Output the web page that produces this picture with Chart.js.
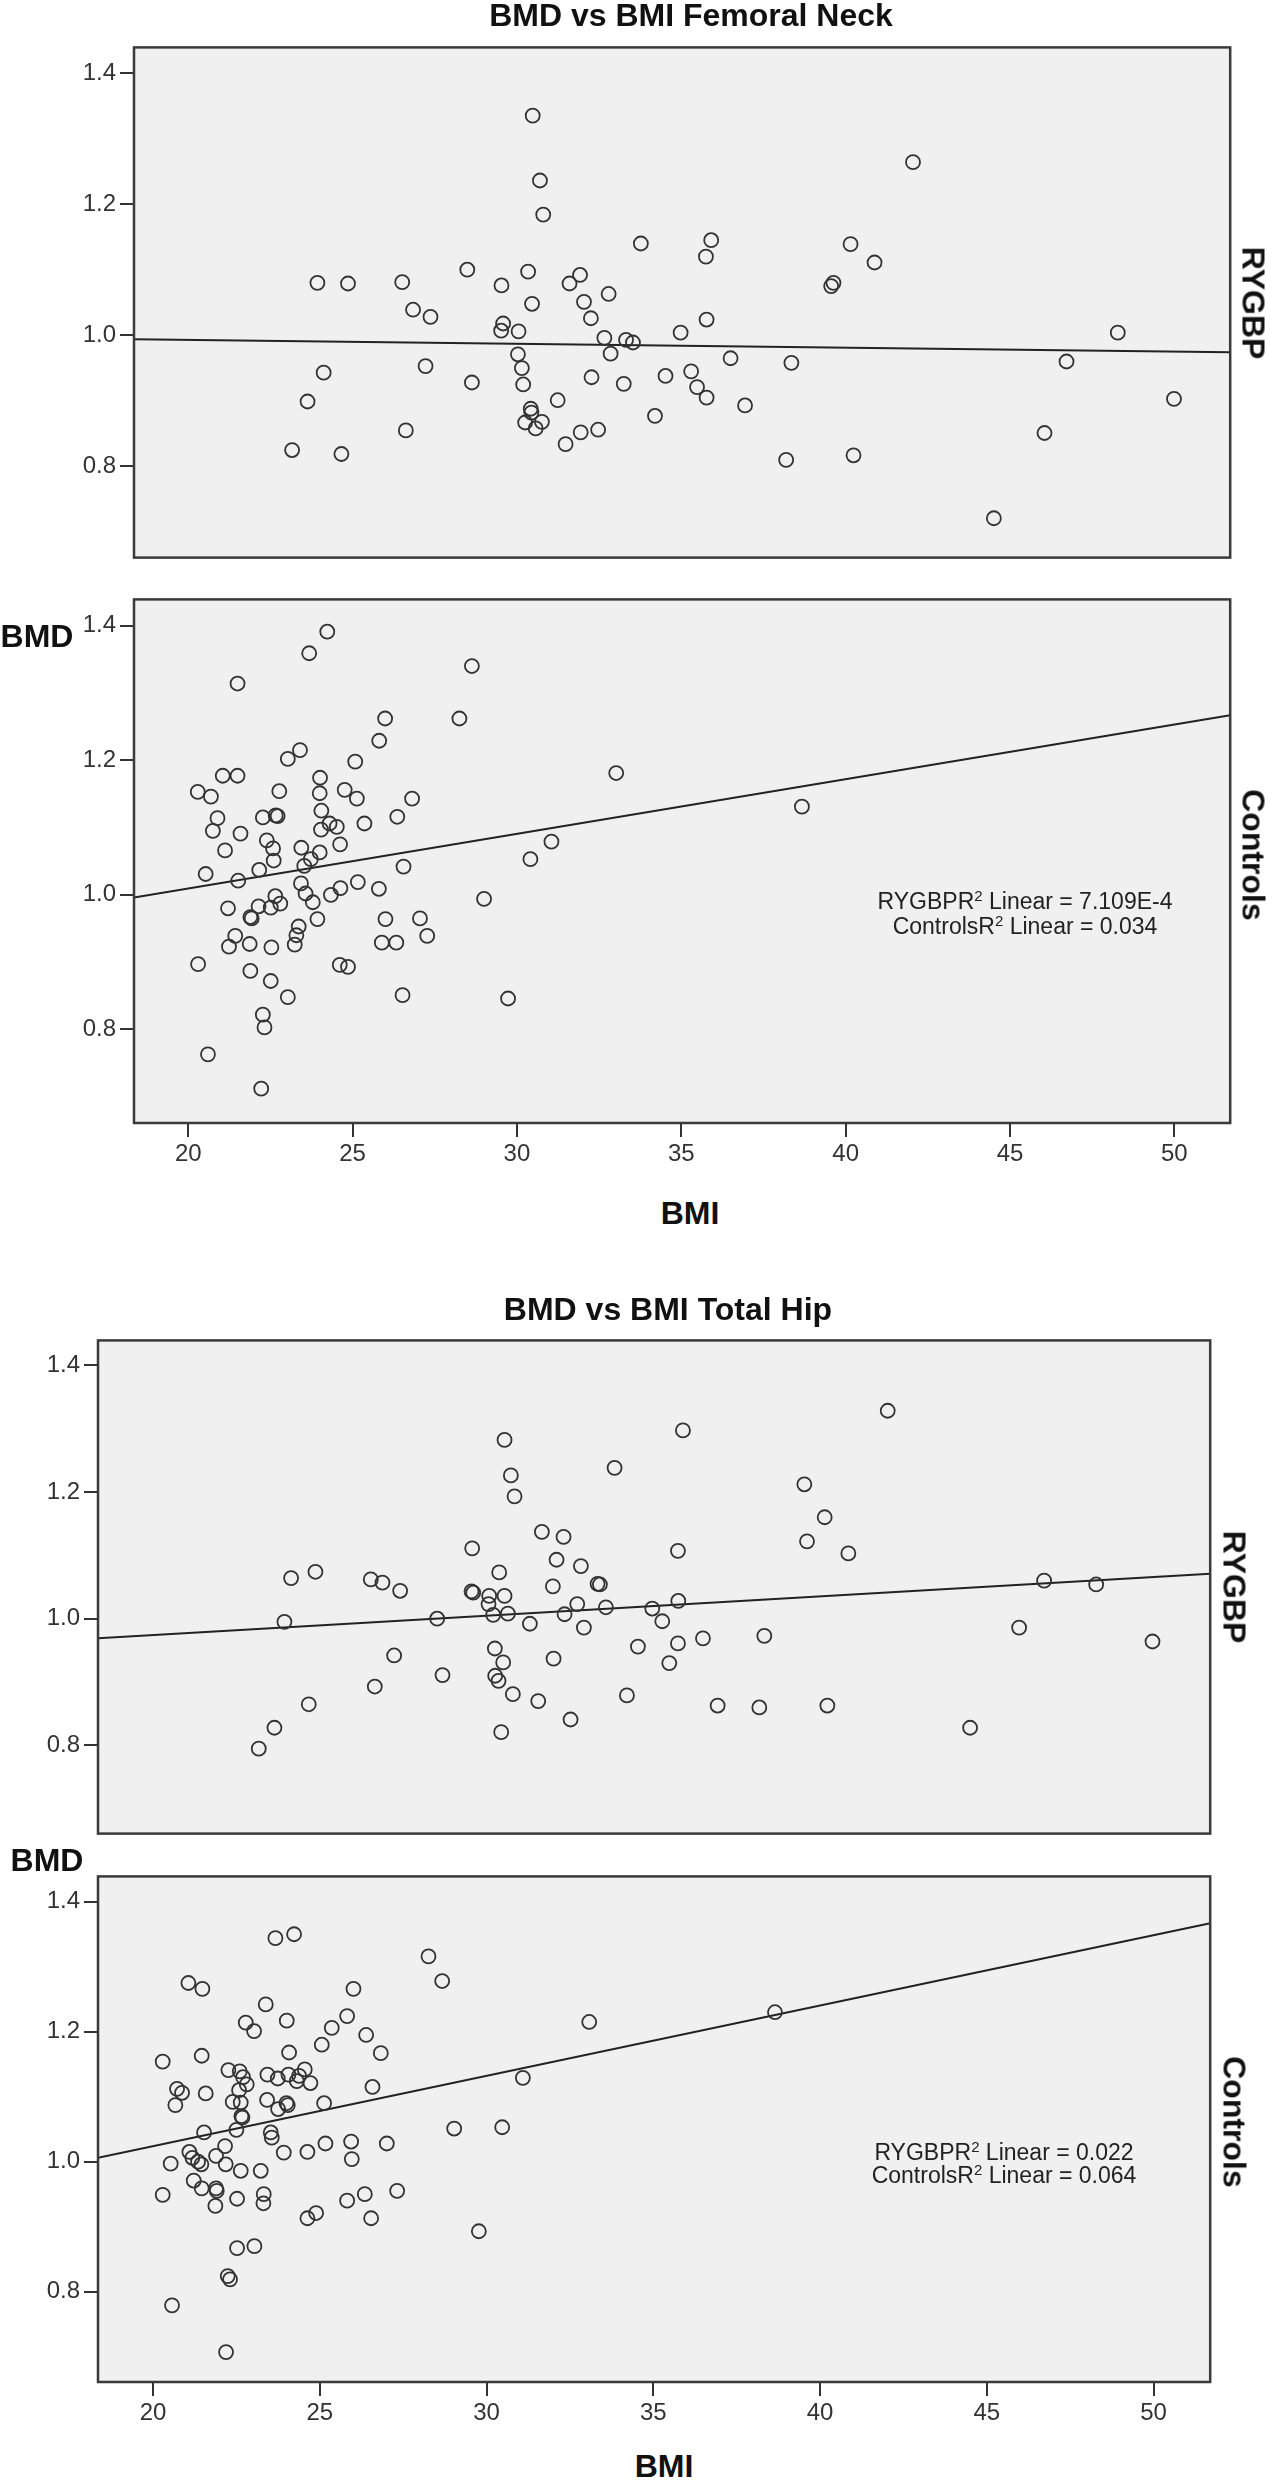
<!DOCTYPE html>
<html>
<head>
<meta charset="utf-8">
<script src="https://cdn.jsdelivr.net/npm/chart.js@4.4.0/dist/chart.umd.min.js"></script>
<style>
  body { margin: 0; background: #fff; }
  #page { position: relative; width: 1266px; height: 2480px; font-family: 'Liberation Sans', Arial, sans-serif; color: #111; }
  canvas { position: absolute; left: 0; z-index: 1; }
  .lbl { position: absolute; z-index: 2; font-weight: bold; font-size: 32px; white-space: nowrap; transform: translate(-50%, -50%); }
  .row { transform: translate(-50%, -50%) rotate(90deg); }
  .fit { position: absolute; z-index: 2; font-size: 23px; line-height: 22px; text-align: center; white-space: nowrap; transform: translateX(-50%); color: #222; }
  .fit sup { font-size: 15px; vertical-align: baseline; position: relative; top: -8px; }
</style>
</head>
<body>
<div id="page">
  <div class="lbl" style="left:691px; top:15px;">BMD vs BMI Femoral Neck</div>
  <div class="lbl" style="left:37px; top:636px;">BMD</div>
  <div class="lbl" style="left:690px; top:1213px;">BMI</div>
  <div class="lbl row" style="left:1253px; top:303px;">RYGBP</div>
  <div class="lbl row" style="left:1253px; top:855px;">Controls</div>
  <div class="fit" style="left:1025px; top:890px;">RYGBPR<sup>2</sup> Linear = 7.109E-4<br>ControlsR<sup>2</sup> Linear = 0.034</div>

  <div class="lbl" style="left:668px; top:1309px;">BMD vs BMI Total Hip</div>
  <div class="lbl" style="left:47px; top:1860px;">BMD</div>
  <div class="lbl" style="left:664px; top:2466px;">BMI</div>
  <div class="lbl row" style="left:1234px; top:1587px;">RYGBP</div>
  <div class="lbl row" style="left:1234px; top:2122px;">Controls</div>
  <div class="fit" style="left:1004px; top:2142px; line-height:20px;">RYGBPR<sup>2</sup> Linear = 0.022<br>ControlsR<sup>2</sup> Linear = 0.064</div>

  <canvas id="fnTop" width="1239" height="547" style="top:29px;"></canvas>
  <canvas id="fnBottom" width="1239" height="602" style="top:581px;"></canvas>
  <canvas id="thTop" width="1219" height="530" style="top:1322px;"></canvas>
  <canvas id="thBottom" width="1219" height="584" style="top:1858px;"></canvas>
</div>

<script>
// --- DATA ---
const bmiTicks = [20, 25, 30, 35, 40, 45, 50];
const bmdTicks = [0.8, 1.0, 1.2, 1.4];
const bmiMin = 18.35, bmiMax = 51.7;
const bmdMin = 0.661, bmdMax = 1.439;

// Femoral neck - RYGBP
const fnRygbpBmi = [30.48, 30.70, 30.80, 33.77, 28.49, 30.34, 31.92, 23.93, 24.86, 26.51,
  29.53, 31.60, 32.79, 30.46, 32.04, 26.84, 27.37, 32.25, 29.58, 29.52,
  30.05, 32.66, 33.32, 33.53, 32.85, 30.03, 30.15, 24.12, 27.22, 32.27,
  28.63, 30.19, 33.25, 23.63, 31.24, 30.42, 30.44, 30.25, 30.76, 30.57,
  26.62, 31.94, 32.47, 31.48, 23.16, 24.66,
  42.05, 35.91, 35.75, 40.15, 40.88, 39.56, 39.63, 35.77, 34.98, 48.28,
  36.50, 38.35, 46.72, 34.52, 35.30, 35.48, 35.77, 36.94, 49.99, 34.20,
  46.05, 38.19, 40.24, 44.51];
const fnRygbpBmd = [1.335, 1.236, 1.184, 1.140, 1.100, 1.097, 1.092, 1.080, 1.079, 1.081,
  1.076, 1.079, 1.063, 1.048, 1.051, 1.039, 1.028, 1.026, 1.018, 1.007,
  1.006, 0.996, 0.993, 0.989, 0.972, 0.971, 0.950, 0.943, 0.953, 0.936,
  0.928, 0.925, 0.926, 0.899, 0.901, 0.888, 0.882, 0.867, 0.868, 0.858,
  0.855, 0.852, 0.856, 0.834, 0.825, 0.819,
  1.264, 1.145, 1.120, 1.139, 1.111, 1.075, 1.080, 1.024, 1.004, 1.004,
  0.965, 0.958, 0.960, 0.938, 0.945, 0.921, 0.905, 0.893, 0.903, 0.877,
  0.851, 0.810, 0.817, 0.721];
const fnRygbpFit = [0.994, 0.974]; // line value at bmiMin, bmiMax

// Femoral neck - Controls
const fnCtrlBmi = [24.23, 23.68, 28.63, 21.50, 28.25, 25.99, 25.81, 23.40, 23.03, 25.08,
  33.02, 21.05, 21.50, 24.01, 20.29, 20.69, 22.77, 24.00, 24.76, 25.13,
  26.81, 24.05, 20.89, 22.27, 22.66, 22.72, 26.36, 24.30, 24.52, 25.36,
  24.04, 20.75, 21.59, 22.39, 31.05, 24.62, 21.12, 22.58, 23.44, 24.00,
  22.60, 23.73, 23.53, 30.41, 26.55, 20.53, 22.16, 21.52, 23.43, 25.16,
  23.57, 24.34, 24.63, 25.80, 22.65, 22.80, 22.51, 23.79, 21.21, 22.14,
  29.00, 21.89, 21.93, 23.93, 26.00, 27.05, 23.36, 23.29, 21.43, 21.24,
  21.87, 22.53, 23.24, 25.89, 26.33, 27.27, 20.30, 24.61, 24.86, 21.89,
  22.51, 23.03, 26.52, 29.73, 22.27, 22.32, 20.60, 22.22, 38.67];
const fnCtrlBmd = [1.391, 1.359, 1.340, 1.314, 1.262, 1.262, 1.229, 1.215, 1.202, 1.198,
  1.181, 1.177, 1.177, 1.174, 1.153, 1.146, 1.154, 1.151, 1.156, 1.143,
  1.143, 1.125, 1.114, 1.115, 1.118, 1.117, 1.116, 1.106, 1.101, 1.106,
  1.097, 1.095, 1.091, 1.081, 1.079, 1.075, 1.066, 1.069, 1.070, 1.063,
  1.051, 1.053, 1.043, 1.053, 1.042, 1.031, 1.037, 1.021, 1.017, 1.019,
  1.002, 1.000, 1.010, 1.009, 0.998, 0.987, 0.981, 0.989, 0.980, 0.983,
  0.994, 0.967, 0.965, 0.964, 0.964, 0.965, 0.953, 0.940, 0.939, 0.923,
  0.927, 0.922, 0.926, 0.929, 0.929, 0.939, 0.897, 0.896, 0.893, 0.887,
  0.872, 0.848, 0.851, 0.846, 0.822, 0.803, 0.763, 0.712, 1.131];
const fnCtrlFit = [0.996, 1.267];

// Total hip - RYGBP
const thRygbpBmi = [30.54, 33.84, 30.73, 30.84, 31.66, 32.31, 29.57, 32.10, 32.83, 24.87,
  24.14, 30.38, 26.53, 26.88, 31.99, 33.33, 33.40, 27.41, 29.55, 29.60,
  30.08, 30.54, 30.06, 32.72, 33.58, 34.97, 30.20, 30.64, 32.34, 23.94,
  28.52, 31.30, 32.92, 30.25, 34.54, 27.23, 32.01, 30.50, 28.68, 30.26,
  30.36, 26.65, 30.79, 34.21, 31.55, 24.67, 32.52, 23.64, 30.44, 23.17,
  42.03, 35.89, 39.53, 40.14, 39.61, 40.85, 35.74, 46.72, 48.28, 35.75,
  35.27, 45.97, 36.49, 35.74, 38.33, 49.97, 35.48, 36.93, 38.18, 40.22, 44.50];
const thRygbpBmd = [1.282, 1.238, 1.226, 1.193, 1.137, 1.129, 1.111, 1.093, 1.083, 1.074,
  1.064, 1.073, 1.062, 1.057, 1.051, 1.055, 1.054, 1.044, 1.043, 1.041,
  1.036, 1.036, 1.023, 1.023, 1.018, 1.016, 1.006, 1.008, 1.007, 0.995,
  1.000, 0.992, 0.986, 0.953, 0.956, 0.942, 0.937, 0.931, 0.911, 0.910,
  0.902, 0.893, 0.881, 0.879, 0.870, 0.865, 0.841, 0.828, 0.821, 0.795,
  1.328, 1.297, 1.212, 1.160, 1.122, 1.103, 1.107, 1.060, 1.054, 1.028,
  0.996, 0.986, 0.969, 0.961, 0.973, 0.964, 0.930, 0.863, 0.860, 0.863, 0.828];
const thRygbpFit = [0.969, 1.071];

// Total hip - Controls
const thCtrlBmi = [24.23, 23.67, 28.26, 28.67, 21.06, 21.48, 26.01, 23.38, 25.82, 33.08,
  22.78, 24.01, 23.03, 25.36, 26.39, 25.06, 21.46, 20.29, 24.08, 26.83,
  22.26, 22.60, 23.43, 23.74, 22.70, 24.06, 24.38, 24.55, 24.31, 24.72,
  31.09, 20.72, 20.87, 22.81, 22.58, 26.58, 21.58, 22.39, 22.63, 20.67,
  23.42, 24.00, 24.04, 25.13, 23.75, 22.65, 22.68, 29.03, 30.47, 22.50,
  23.53, 23.56, 21.53, 25.17, 25.94, 27.01, 22.16, 23.92, 24.63, 21.09,
  21.18, 21.35, 21.45, 21.89, 20.53, 22.18, 25.96, 22.63, 23.23, 21.22,
  21.46, 21.89, 21.91, 20.29, 23.32, 26.35, 27.32, 22.52, 23.31, 25.82,
  21.87, 24.63, 24.89, 26.54, 29.77, 22.52, 23.04, 22.24, 22.31, 20.57,
  22.19, 38.65];
const thCtrlBmd = [1.350, 1.344, 1.316, 1.278, 1.275, 1.266, 1.266, 1.242, 1.224, 1.215,
  1.214, 1.217, 1.201, 1.206, 1.195, 1.180, 1.163, 1.154, 1.168, 1.167,
  1.141, 1.139, 1.134, 1.128, 1.130, 1.134, 1.132, 1.142, 1.124, 1.121,
  1.129, 1.112, 1.106, 1.119, 1.110, 1.115, 1.105, 1.092, 1.091, 1.087,
  1.095, 1.090, 1.087, 1.090, 1.081, 1.070, 1.068, 1.051, 1.053, 1.049,
  1.045, 1.037, 1.045, 1.028, 1.031, 1.028, 1.024, 1.014, 1.015, 1.015,
  1.006, 1.000, 0.996, 1.009, 0.997, 0.996, 1.004, 0.986, 0.986, 0.971,
  0.959, 0.959, 0.955, 0.949, 0.950, 0.950, 0.955, 0.943, 0.936, 0.940,
  0.932, 0.913, 0.921, 0.913, 0.893, 0.867, 0.870, 0.824, 0.819, 0.779,
  0.707, 1.230];
const thCtrlFit = [1.006, 1.367];

// --- STYLE ---
Chart.defaults.font.family = "'Liberation Sans', Arial, sans-serif";

// grey panel background + frame round the plot area
const panelBox = {
  id: 'panelBox',
  beforeDraw(chart) {
    const { ctx, chartArea: a } = chart;
    ctx.save();
    ctx.fillStyle = '#f0f0f0';
    ctx.fillRect(a.left, a.top, a.width, a.height);
    ctx.restore();
  },
  afterDraw(chart) {
    const { ctx, chartArea: a } = chart;
    ctx.save();
    ctx.strokeStyle = '#3a3a3a';
    ctx.lineWidth = 2.5;
    ctx.strokeRect(a.left, a.top, a.width, a.height);
    ctx.restore();
  }
};

function makePanel(id, axisWidth, bmi, bmd, fit, showX) {
  const ctx = document.getElementById(id);
  return new Chart(ctx, {
    type: 'scatter',
    data: {
      datasets: [
        {
          data: bmi.map((x, i) => ({ x: x, y: bmd[i] })),
          pointRadius: 7,
          pointHoverRadius: 7,
          pointBorderWidth: 1.8,
          borderColor: '#333',
          backgroundColor: 'rgba(0,0,0,0)'
        },
        {
          type: 'line',
          data: [{ x: bmiMin, y: fit[0] }, { x: bmiMax, y: fit[1] }],
          borderColor: '#222',
          borderWidth: 2,
          pointRadius: 0
        }
      ]
    },
    options: {
      responsive: false,
      animation: false,
      devicePixelRatio: 1,
      layout: { padding: { top: 4, right: 4, bottom: showX ? 0 : 4, left: 0 } },
      plugins: { legend: { display: false }, tooltip: { enabled: false } },
      scales: {
        x: {
          type: 'linear', min: bmiMin, max: bmiMax, display: showX,
          afterBuildTicks: s => { s.ticks = bmiTicks.map(v => ({ value: v })); },
          // fixed axis height, only for the panel that shows it
          afterFit: s => { if (showX) s.height = 60; },
          border: { display: false },
          grid: { drawOnChartArea: false, drawTicks: true, tickLength: 14, color: '#333', lineWidth: 2 },
          ticks: { padding: 3, color: '#333', font: { size: 24 }, maxRotation: 0 }
        },
        y: {
          type: 'linear', min: bmdMin, max: bmdMax,
          afterBuildTicks: s => { s.ticks = bmdTicks.map(v => ({ value: v })); },
          afterFit: s => { s.width = axisWidth; },
          border: { display: false },
          grid: { drawOnChartArea: false, drawTicks: true, tickLength: 14, color: '#333', lineWidth: 2 },
          ticks: { padding: 4, color: '#333', font: { size: 24 }, callback: v => v.toFixed(1) }
        }
      }
    },
    plugins: [panelBox]
  });
}

document.addEventListener('DOMContentLoaded', () => {
  makePanel('fnTop', 134, fnRygbpBmi, fnRygbpBmd, fnRygbpFit, false);
  makePanel('fnBottom', 134, fnCtrlBmi, fnCtrlBmd, fnCtrlFit, true);
  makePanel('thTop', 98, thRygbpBmi, thRygbpBmd, thRygbpFit, false);
  makePanel('thBottom', 98, thCtrlBmi, thCtrlBmd, thCtrlFit, true);
});
</script>
</body>
</html>
